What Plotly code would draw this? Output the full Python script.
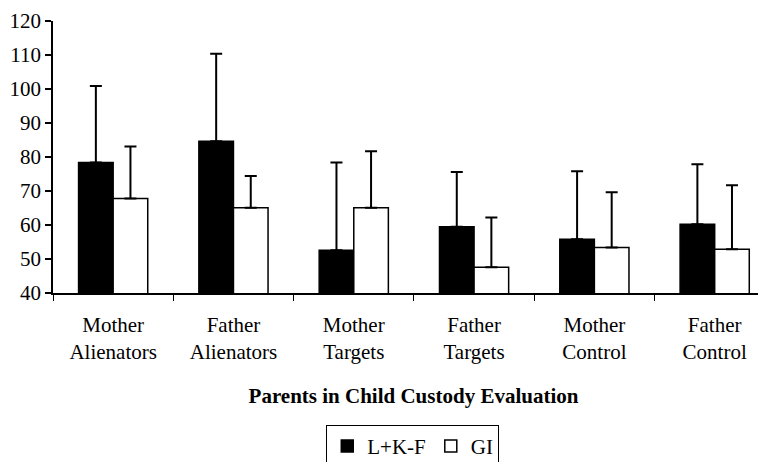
import plotly.graph_objects as go

categories = ["Mother<br>Alienators", "Father<br>Alienators", "Mother<br>Targets",
              "Father<br>Targets", "Mother<br>Control", "Father<br>Control"]
lkf_values = [78.4, 84.6, 52.6, 59.5, 55.8, 60.2]
lkf_err = [22.5, 25.8, 25.8, 16.1, 20.0, 17.7]
gi_values = [67.8, 65.1, 65.1, 47.6, 53.4, 52.9]
gi_err = [15.3, 9.3, 16.6, 14.6, 16.2, 18.8]
y_ticks = [40, 50, 60, 70, 80, 90, 100, 110, 120]

FF = "Liberation Serif"

fig = go.Figure()
fig.add_trace(go.Bar(
    x=categories, y=lkf_values, name="L+K-F",
    marker=dict(color="black", line=dict(color="black", width=1.5)),
    error_y=dict(type="data", array=lkf_err, arrayminus=[0]*6, symmetric=False,
                 color="black", thickness=2, width=6),
))
fig.add_trace(go.Bar(
    x=categories, y=gi_values, name="GI",
    marker=dict(color="white", line=dict(color="black", width=1.5)),
    error_y=dict(type="data", array=gi_err, arrayminus=[0]*6, symmetric=False,
                 color="black", thickness=2, width=6),
))

fig.update_layout(
    width=766, height=462,
    margin=dict(l=45, r=0, t=13, b=177, autoexpand=False),
    paper_bgcolor="white", plot_bgcolor="white",
    barmode="group", bargap=0.425, bargroupgap=0,
    font=dict(family=FF, size=21, color="black"),
    showlegend=True,
    legend=dict(orientation="h", x=0.499, xanchor="center", y=-0.485, yanchor="top",
                bordercolor="black", borderwidth=1, bgcolor="white",
                font=dict(family=FF, size=21, color="black"), itemwidth=30, tracegroupgap=0),
)
fig.update_xaxes(
    range=[-0.5, 5.493], showline=True, linecolor="black", linewidth=1.5,
    ticks="outside", tickson="boundaries", ticklen=6, tickcolor="black", tickwidth=1,
    showgrid=False, tickfont=dict(family=FF, size=21, color="black"), automargin=False,
    ticklabelstandoff=12,
    title=dict(text="<b>Parents in Child Custody Evaluation</b>",
               font=dict(family=FF, size=21, color="black"), standoff=25),
)
fig.update_yaxes(
    range=[40, 120], tickvals=y_ticks, showline=True, linecolor="black", linewidth=1.5,
    ticks="outside", ticklen=6, tickcolor="black", tickwidth=1.5,
    showgrid=False, zeroline=False, tickfont=dict(family=FF, size=21, color="black"),
    automargin=False,
)

fig.write_html("out.html")
